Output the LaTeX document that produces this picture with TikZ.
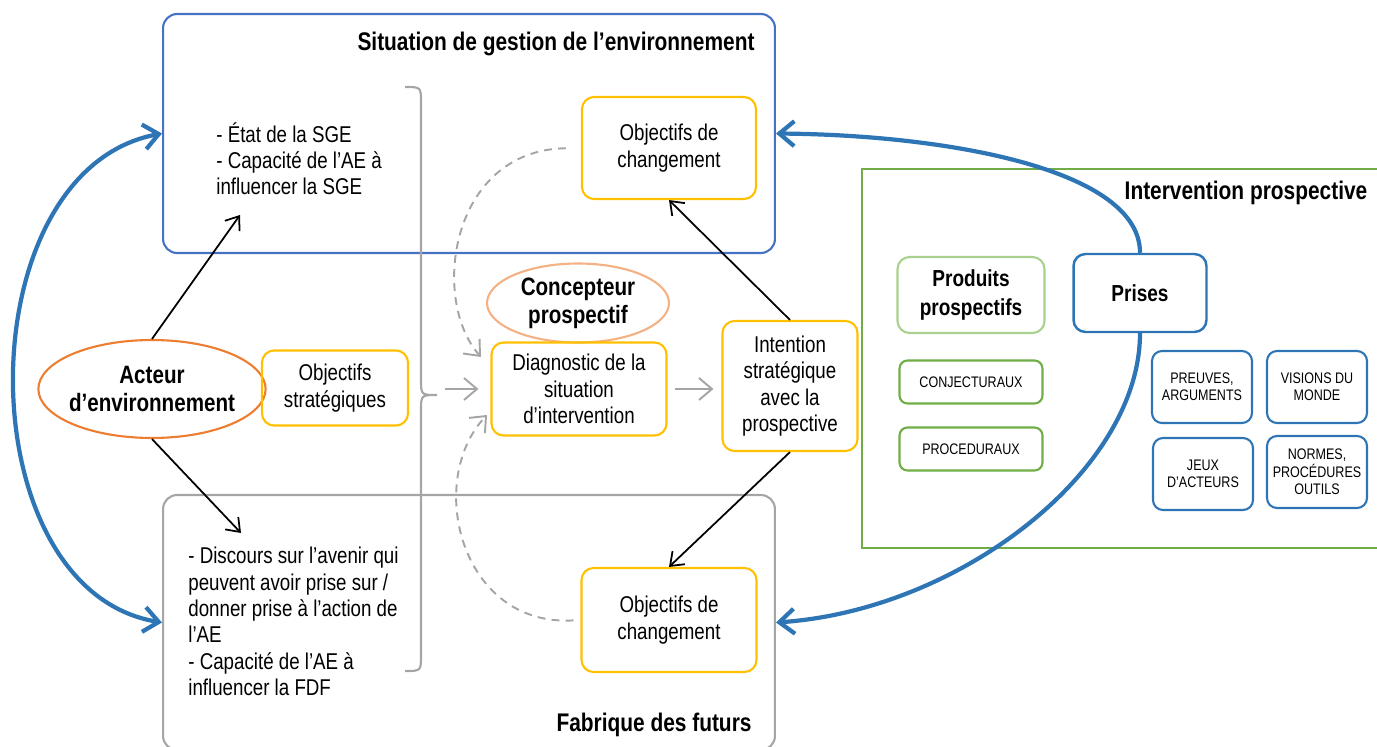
\documentclass[tikz,border=0pt]{standalone}
\usepackage{fontspec}
\setmainfont{Liberation Sans}[FakeStretch=0.82]
\usetikzlibrary{arrows.meta,shapes.geometric}
\definecolor{bleuAE}{HTML}{4472C4}
\definecolor{bleuP}{HTML}{2E75B6}
\definecolor{jaune}{HTML}{FFC000}
\definecolor{orangeAE}{HTML}{ED7D31}
\definecolor{saumon}{HTML}{F4B183}
\definecolor{vert}{HTML}{70AD47}
\definecolor{vertclair}{HTML}{A9D18E}
\definecolor{gris}{HTML}{A5A5A5}
\newcommand{\txtn}{\fontsize{13}{15}\selectfont}
\newcommand{\txtb}{\fontsize{14.3}{16}\selectfont\bfseries}
\newcommand{\txtm}{\fontsize{13.2}{16}\selectfont\bfseries}
\newcommand{\txtp}{\fontsize{8.7}{9.9}\selectfont}
\newcommand{\txtg}{\fontsize{14.5}{17}\selectfont\bfseries}
\begin{document}
\begin{tikzpicture}[x=0.02cm,y=-0.02cm,>={Straight Barb[length=2.4mm,width=3.6mm]},
  boite/.style={draw=jaune,line width=1.2pt,rounded corners=0.24cm,align=center,font=\txtn,inner sep=0},
  prise/.style={draw=bleuP,line width=1.2pt,rounded corners=0.2cm,align=center,font=\txtp,minimum width=2cm,minimum height=1.44cm,inner sep=0},
  produit/.style={draw=vert,line width=1.2pt,rounded corners=0.16cm,font=\txtp,minimum width=2.86cm,minimum height=0.86cm},
  fleche/.style={->,line width=1pt},
  fgris/.style={->,draw=gris,line width=1.1pt,>={Straight Barb[length=2.6mm,width=4.4mm]}},
  fbleu/.style={line width=2.4pt,draw=bleuP,>={Straight Barb[length=3mm,width=5mm]}},
  titre/.style={font=\txtg}]
\useasboundingbox (0,0) rectangle (1377,747);
% les grands cadres
\node[draw=bleuAE,line width=1.2pt,rounded corners=0.28cm,minimum width=12.24cm,minimum height=4.78cm] (sge) at (469,133.5) {};
\node[draw=gris,line width=1.2pt,rounded corners=0.28cm,minimum width=12.24cm,minimum height=5.1cm] (fdf) at (469,622.5) {};
\draw[vert,line width=1.2pt] (862,169) rectangle (1400,548);
\node[titre] at (556,44) {Situation de gestion de l’environnement};
\node[titre] at (1246,193) {Intervention prospective};
\node[titre] at (654,725) {Fabrique des futurs};
\node[font=\txtn,align=left,anchor=north west,inner sep=0] (txtsge) at (216,122) {- État de la SGE\\- Capacité de l’AE à\\influencer la SGE};
\node[font=\txtn,align=left,anchor=north west,inner sep=0] (txtfdf) at (188,547) {- Discours sur l’avenir qui\\peuvent avoir prise sur /\\donner prise à l’action de\\l’AE\\- Capacité de l’AE à\\influencer la FDF};
% acteur, concepteur et les objectifs
\node[draw=orangeAE,line width=1.2pt,ellipse,inner ysep=0,inner xsep=-1.5pt,minimum width=4.52cm,minimum height=1.96cm,align=center,font=\txtb] (acteur) at (152,389) {Acteur\\d’environnement};
\node[boite,minimum width=2.92cm,minimum height=1.5cm] (ostrat) at (335,388) {Objectifs\\stratégiques};
\node[draw=saumon,line width=1.2pt,ellipse,inner sep=0,minimum width=3.64cm,minimum height=1.58cm,align=center,font=\txtb] (concept) at (578,303) {Concepteur\\prospectif};
\node[boite,minimum width=3.5cm,minimum height=1.86cm] (diag) at (579,389) {Diagnostic de la\\situation\\d’intervention};
\node[boite,minimum width=2.7cm,minimum height=2.6cm] (intent) at (790,386) {Intention\\stratégique\\avec la\\prospective};
\node[boite,minimum width=3.48cm,minimum height=2.04cm] (obj1) at (669,148) {Objectifs de\\changement};
\node[boite,minimum width=3.5cm,minimum height=2.08cm] (obj2) at (669,620) {Objectifs de\\changement};
% intervention prospective
\node[draw=vertclair,line width=1.2pt,rounded corners=0.24cm,minimum width=2.94cm,minimum height=1.52cm,align=center,font=\txtm] (produits) at (971,295) {Produits\\prospectifs};
\node[draw=bleuP,line width=1.4pt,rounded corners=0.24cm,minimum width=2.66cm,minimum height=1.56cm,font=\txtm] (prises) at (1140,293) {Prises};
\node[produit] (conj) at (971,382) {CONJECTURAUX};
\node[produit] (proc) at (971,449) {PROCEDURAUX};
\foreach \n/\x/\y/\lbl in {preuves/1202/387/{PREUVES,\\ARGUMENTS},visions/1317/387/{VISIONS DU\\MONDE},jeux/1203/474/{JEUX\\D’ACTEURS},normes/1317/472/{NORMES,\\PROCÉDURES\\OUTILS}}
\node[prise] (\n) at (\x,\y) {\lbl};
% accolade grise
\draw[gris,line width=1.2pt] (405,87) .. controls (421,87) .. (421,103) -- (421,379) .. controls (421,395) .. (437,395) .. controls (421,395) .. (421,411) -- (421,655) .. controls (421,671) .. (405,671);
% fleches noires
\coordinate (ptsge) at (240,215);
\coordinate (ptfdf) at (241,533);
\draw[fleche] (acteur.north) -- (ptsge);
\draw[fleche] (acteur.south) -- (ptfdf);
\draw[fleche] (intent.north) -- (obj1.south);
\draw[fleche] (intent.south) -- (obj2.north);
% fleches grises
\coordinate (accol) at (445,389);
\coordinate (dhaut) at (481,357);
\coordinate (dbas) at (487,415);
\draw[fgris,shorten >=0.24cm] (accol) -- (diag.west);
\draw[fgris,shorten <=0.14cm,shorten >=0.16cm] (diag.east) -- (diag.east -| intent.west);
\draw[fgris,dash pattern=on 4.5pt off 3.5pt,shorten <=0.3cm] (obj1.west) .. controls (450,150) and (430,300) .. (dhaut);
\draw[fgris,dash pattern=on 4.5pt off 3.5pt,shorten <=0.14cm] (obj2.west) .. controls (460,627) and (425,480) .. (dbas);
% fleches bleues
\draw[fbleu,<->] (sge.west) .. controls (-35,170) and (-35,590) .. (fdf.west);
\draw[fbleu,->] (prises.north) .. controls (1140,170) and (950,135) .. (sge.east);
\draw[fbleu,->] (prises.south) .. controls (1140,470) and (960,610) .. (fdf.east);
\end{tikzpicture}
\end{document}
